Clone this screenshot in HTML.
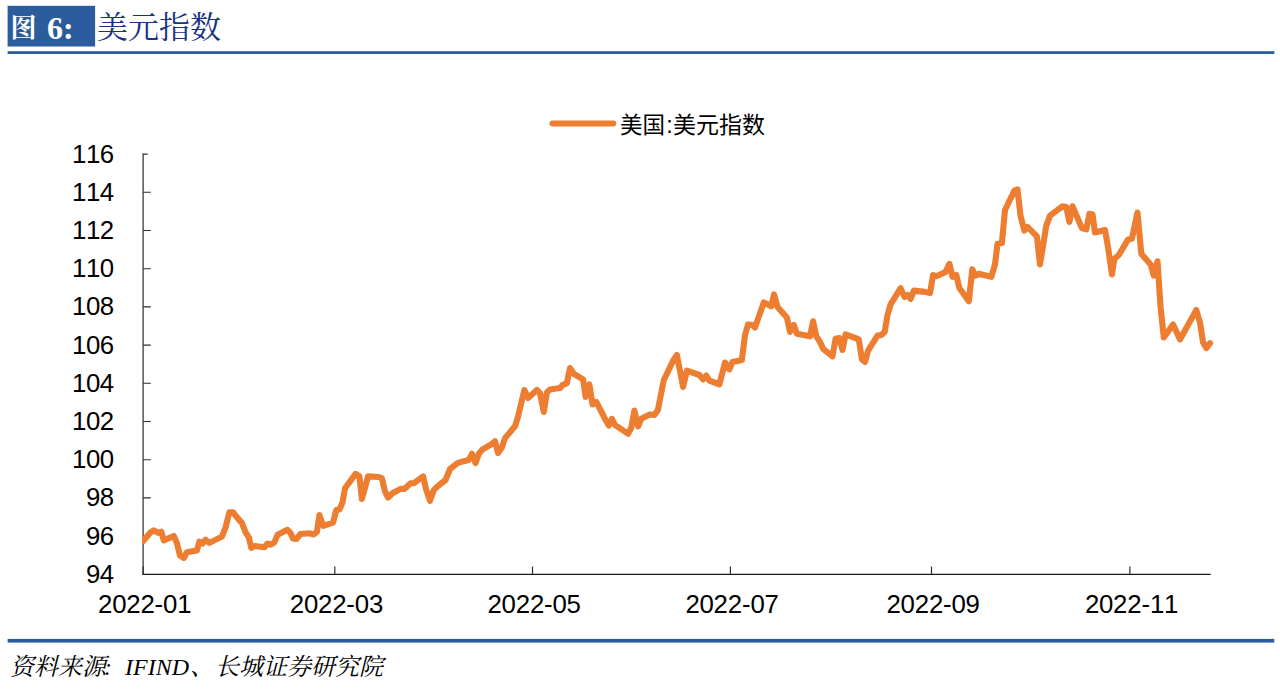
<!DOCTYPE html>
<html><head><meta charset="utf-8"><title>图 6: 美元指数</title>
<style>
html,body{margin:0;padding:0;background:#fff;}
body{width:1280px;height:690px;overflow:hidden;position:relative;font-family:"Liberation Sans",sans-serif;}
svg{position:absolute;left:0;top:0;display:block;}
.ax{font-family:"Liberation Sans",sans-serif;font-size:24.3px;fill:#000;}
.tb{font-family:"Liberation Serif","Noto Serif CJK SC",serif;font-weight:bold;font-size:32px;fill:#fff;}
.fi{font-family:"Liberation Serif","Noto Serif CJK SC",serif;font-style:italic;font-size:24px;fill:#000;}
.tt{font-family:"Liberation Serif","Noto Serif CJK SC",serif;font-size:31px;fill:#193383;}
.lg{font-family:"Liberation Sans","Noto Sans CJK SC",sans-serif;fill:#000;}
</style></head>
<body>
<svg width="1280" height="690" viewBox="0 0 1280 690">
<rect x="7.6" y="5.8" width="87.5" height="40.7" fill="#2b5d9e"/>
<rect x="7.6" y="51.2" width="1266.7" height="2.8" fill="#2b5d9e"/>
<rect x="7.6" y="638.9" width="1266.7" height="3.7" fill="#2b5d9e"/>
<text class="tb" x="10.5" y="37" style="font-size:26px">图</text>
<text class="tb" x="47" y="39">6:</text>
<text class="tt" x="97" y="38">美元指数</text>
<line x1="552.5" y1="123.4" x2="613.3" y2="123.4" stroke="#ed7d31" stroke-width="6" stroke-linecap="round"/>
<text class="lg" x="620" y="133" style="font-size:22.5px">美国</text>
<text class="ax" x="666.2" y="133" style="font-size:23.3px">:</text>
<text class="lg" x="673" y="133" style="font-size:23px">美元指数</text>
<path d="M143.1 153.6 V574.3" stroke="#2a2a2a" stroke-width="1.2" fill="none"/>
<path d="M143.1 536.1 h7.7M143.1 497.9 h7.7M143.1 459.7 h7.7M143.1 421.5 h7.7M143.1 383.3 h7.7M143.1 345.1 h7.7M143.1 306.9 h7.7M143.1 268.7 h7.7M143.1 230.5 h7.7M143.1 192.3 h7.7M143.1 154.1 h4.6" stroke="#2f2f2f" stroke-width="1.1" fill="none"/>
<path d="M143.1 574.3 v-7.9M334.8 574.3 v-7.9M532.5 574.3 v-7.9M730.4 574.3 v-7.9M931.5 574.3 v-7.9M1129.9 574.3 v-7.9" stroke="#2a2a2a" stroke-width="1.15" fill="none"/>
<path d="M142.5 574.4 H1210.8" stroke="#1a1a1a" stroke-width="1.25" fill="none"/>
<text class="ax" style="font-size:25.8px" x="85.9 99.8" y="582.7">94</text>
<text class="ax" style="font-size:25.8px" x="85.9 99.8" y="544.7">96</text>
<text class="ax" style="font-size:25.8px" x="85.9 99.8" y="505.7">98</text>
<text class="ax" style="font-size:25.8px" x="72 85.9 99.8" y="467.7">100</text>
<text class="ax" style="font-size:25.8px" x="72 85.9 99.8" y="429.7">102</text>
<text class="ax" style="font-size:25.8px" x="72 85.9 99.8" y="391.7">104</text>
<text class="ax" style="font-size:25.8px" x="72 85.9 99.8" y="353.7">106</text>
<text class="ax" style="font-size:25.8px" x="72 85.9 99.8" y="314.7">108</text>
<text class="ax" style="font-size:25.8px" x="72 85.9 99.8" y="276.7">110</text>
<text class="ax" style="font-size:25.8px" x="72 85.9 99.8" y="238.7">112</text>
<text class="ax" style="font-size:25.8px" x="72 85.9 99.8" y="200.7">114</text>
<text class="ax" style="font-size:25.8px" x="72 85.9 99.8" y="162.7">116</text>
<text class="ax" style="font-size:25.8px" x="98.1 112.2 126.3 140.5 154.6 163.1 177.2" y="612.6">2022-01</text>
<text class="ax" style="font-size:25.8px" x="289.8 303.9 318 332.2 346.3 354.8 368.9" y="612.6">2022-03</text>
<text class="ax" style="font-size:25.8px" x="487.5 501.6 515.7 529.9 544 552.5 566.6" y="612.6">2022-05</text>
<text class="ax" style="font-size:25.8px" x="685.4 699.5 713.6 727.8 741.9 750.4 764.5" y="612.6">2022-07</text>
<text class="ax" style="font-size:25.8px" x="886.5 900.6 914.7 928.9 943 951.5 965.6" y="612.6">2022-09</text>
<text class="ax" style="font-size:25.8px" x="1084.9 1099 1113.1 1127.3 1141.4 1149.9 1164" y="612.6">2022-11</text>
<clipPath id="cl"><rect x="142.1" y="100" width="1100" height="480"/></clipPath>
<polyline clip-path="url(#cl)" fill="none" stroke="#ed7d31" stroke-width="6.1" stroke-linejoin="round" stroke-linecap="round" points="143.1,541 150.6,532.3 153.8,530.4 158.8,532.9 161.3,531.6 163.8,540.4 173.8,536 176.9,542.9 180,555.4 183.8,557.9 186.9,552.3 196.9,550.4 199.4,541.6 202.5,543.5 205.6,539.8 209.4,542.9 221.9,536.6 225.6,527.3 229.4,512.3 233.1,512.3 236.3,516.6 241.9,522.9 245.6,532.3 248.8,537.3 251.3,547.9 254.4,546 264.4,547.3 267.5,543.5 270.6,544.8 274.4,542.3 277.5,534.8 287.5,529.8 290.5,533 293,538.5 296.5,539 300.5,534 310,533.3 313.8,534.5 316.9,532 319.4,515.1 323.1,525.8 333.1,522.6 336.3,510.1 339.4,509.5 342.5,502.6 345,488.3 355.6,473.9 359.4,476.4 361.9,498.9 368.1,476.4 378.8,477 381.9,478.3 385,491.4 388.1,497.6 392.5,493.3 400.6,488.9 404.4,488.9 410.6,483.3 413.8,483.3 423.1,476.4 426.3,490.1 430,500.8 433.8,490.1 437.5,486.4 445.5,480 450,469 457.5,463.1 461.3,461.9 468.8,460 471.9,453.8 475.6,463.1 478.8,453.8 482.5,449.4 491.3,444.4 495,441.3 498.1,453.1 501.9,447.5 505,438.1 515,426.3 518.1,416.3 524.4,390 528.1,398.1 536.9,390 540,393.1 543.8,411.9 546.9,392.5 550,389.4 560,388.1 562.5,385 566.9,383.1 570,368.1 573.8,373.8 583.1,379.4 585.6,396.9 589.4,384.4 592.5,404.4 596.3,401.9 605.6,420 608.8,425.6 611.9,418.8 615,425 628.1,433.8 631.3,427.5 634.4,410.6 638.1,426.3 641.3,418.8 650,414.4 654.4,415 657.8,410.3 663.8,380 673.8,359.4 676.9,355 683.1,386.9 686.9,370.6 699.4,375 703.1,379.4 706.3,375.6 709.4,380.6 719.4,384.4 725,362.5 729.4,369.4 732.5,361.9 741.9,360 745,335 748.1,324.4 752.5,325 755,327.5 763.8,302.5 771.3,306.3 774,294.4 777.5,306.9 786.9,317.5 790,331.9 793.8,325 796.9,333.8 810,336.3 813.1,321.3 816.3,336.3 820,341.9 823.1,348.8 832.5,356.3 835.6,338.8 839.4,338.1 842.5,350 845.6,334.4 858.8,339.4 861.9,359.4 865,361.9 868.1,350.6 877.5,335.6 881.3,335 884.7,331.9 887.5,315 890.6,304.4 900.6,288.1 904.4,296.9 907.5,295 910.6,298.8 913.8,290.6 925,291.9 930,293.1 933.1,275 936.3,276.3 945.6,271.9 949.4,263.8 952.5,276.9 956.3,275 959.4,288.1 968.8,301.3 972.3,269.4 975.6,275.6 978.8,273.8 991.3,276.9 995,264.4 997.5,243.8 1001.9,243.1 1005,210 1014.4,190.6 1017.5,189.4 1020.6,216.3 1024.4,230.6 1027.5,226.9 1036.9,236.3 1040,264.4 1046.3,225.6 1050,215.6 1062.5,206.3 1066.3,206.9 1069.4,221.9 1072.5,206.3 1081.9,228.1 1086.3,229.4 1089.4,213.8 1092.5,214.4 1095,232.5 1105,230 1108.1,247.5 1111.9,274.4 1114.4,258.8 1118.8,255 1128.1,239.4 1131.9,238.8 1137.5,212.5 1141.3,253.8 1150.6,264.4 1153.8,275.6 1157.5,261.3 1160.6,307.5 1163.8,337.5 1173.1,324.4 1180,339.4 1196.3,310 1200,322.5 1203.1,342.5 1206.3,348.1 1210,343.1"/>
<text class="fi" x="10" y="675">资料来源</text>
<text class="fi" x="104" y="675">:</text>
<text class="fi" x="125" y="674.9">IFIND</text>
<text class="fi" x="190" y="675">、</text>
<text class="fi" x="215" y="675">长城证券研究院</text>
</svg>
</body></html>
